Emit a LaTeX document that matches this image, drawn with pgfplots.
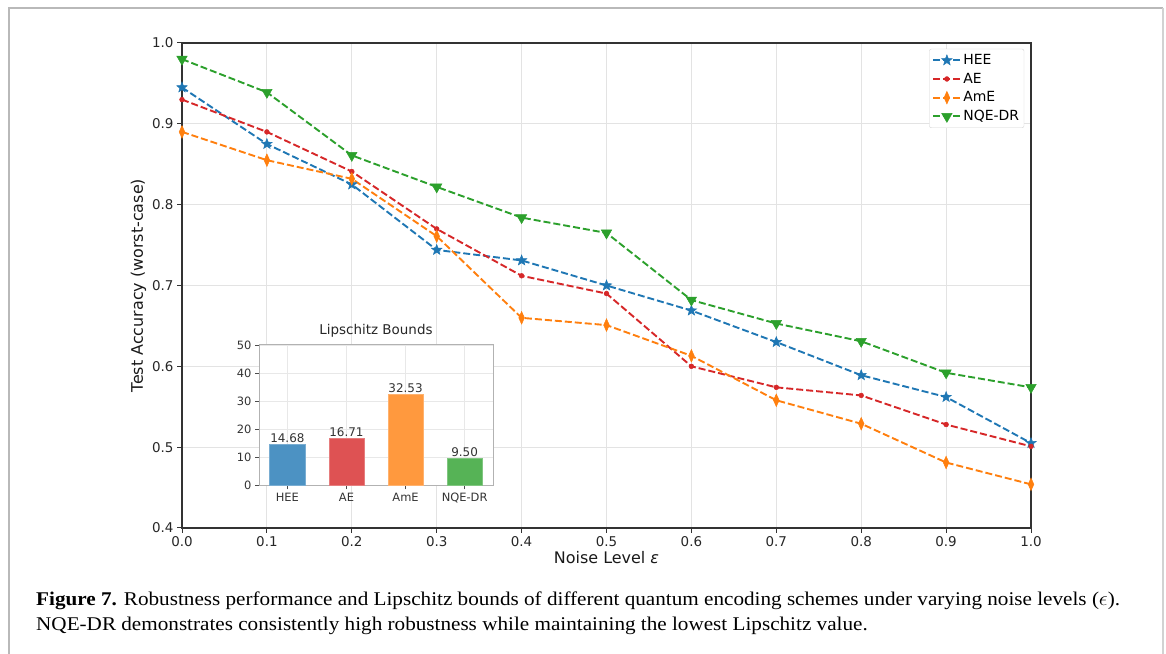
\documentclass[border=0pt]{standalone}
\usepackage{pgfplots}
\pgfplotsset{compat=1.18}
\usepackage{fontspec}
\usepackage{graphicx}
\setmainfont{DejaVu Sans}
\newfontfamily\capfont{Liberation Serif}

\definecolor{tblue}{HTML}{1F77B4}
\definecolor{tred}{HTML}{D62728}
\definecolor{torange}{HTML}{FF7F0E}
\definecolor{tgreen}{HTML}{2CA02C}

\pgfdeclareplotmark{fstar}{%
  \pgfpathmoveto{\pgfpointpolar{90}{\pgfplotmarksize}}%
  \pgfpathlineto{\pgfpointpolar{126}{0.42\pgfplotmarksize}}%
  \pgfpathlineto{\pgfpointpolar{162}{\pgfplotmarksize}}%
  \pgfpathlineto{\pgfpointpolar{198}{0.42\pgfplotmarksize}}%
  \pgfpathlineto{\pgfpointpolar{234}{\pgfplotmarksize}}%
  \pgfpathlineto{\pgfpointpolar{270}{0.42\pgfplotmarksize}}%
  \pgfpathlineto{\pgfpointpolar{306}{\pgfplotmarksize}}%
  \pgfpathlineto{\pgfpointpolar{342}{0.42\pgfplotmarksize}}%
  \pgfpathlineto{\pgfpointpolar{18}{\pgfplotmarksize}}%
  \pgfpathlineto{\pgfpointpolar{54}{0.42\pgfplotmarksize}}%
  \pgfpathclose
  \pgfusepathqfillstroke}

\newcommand\capsize{\capfont\fontsize{19.5}{23}\selectfont}
\newcommand\lineA{\textbf{Figure 7.} Robustness performance and Lipschitz bounds of different quantum encoding schemes under varying noise levels ($\epsilon$).}
\newcommand\lineB{NQE-DR demonstrates consistently high robustness while maintaining the lowest Lipschitz value.}
\newlength\capwA
\newlength\capwB

\begin{document}%
\settowidth\capwA{\capsize\lineA}%
\settowidth\capwB{\capsize\lineB}%
\begin{tikzpicture}
\path[use as bounding box] (0bp,0bp) rectangle (1166bp,654bp);
% frame
\draw[gray!55, line width=1.3bp] (9bp,-2bp) -- (9bp,646bp) -- (1163bp,646bp);
\draw[gray!35, line width=2bp] (1163bp,646bp) -- (1163bp,-2bp);

\begin{axis}[
  at={(182bp,126bp)}, anchor=south west,
  scale only axis, width=849bp, height=485bp,
  xmin=0, xmax=1, ymin=0.4, ymax=1.0,
  xtick={0,0.1,0.2,0.3,0.4,0.5,0.6,0.7,0.8,0.9,1.0},
  ytick={0.4,0.5,0.6,0.7,0.8,0.9,1.0},
  xtick pos=bottom, ytick pos=left,
  xticklabel={\pgfmathprintnumber[fixed,fixed zerofill,precision=1,assume math mode=true]{\tick}},
  yticklabel={\pgfmathprintnumber[fixed,fixed zerofill,precision=1,assume math mode=true]{\tick}},
  tick label style={font=\fontsize{13.5}{15}\selectfont, text=black!85},
  tick align=outside, major tick length=5bp,
  tick style={black!80, line width=1bp},
  axis line style={black!80, line width=1.1bp},
  grid=major, grid style={gray!22, line width=0.9bp},
  xlabel={Noise Level {\itshape ε}},
  ylabel={Test Accuracy (worst-case)},
  label style={font=\fontsize{16}{19}\selectfont, text=black!90},
  xlabel style={yshift=2bp},
  ylabel style={yshift=-1bp},
  legend style={at={(0.992,0.988)}, anchor=north east,
    font=\fontsize{14}{16}\selectfont, draw=gray!35, rounded corners=2bp,
    inner xsep=3bp, inner ysep=3.5bp, row sep=3bp},
  legend cell align=left,
  legend image code/.code={%
    \draw[#1, mark repeat=2, mark phase=2] plot coordinates {(0bp,0bp) (13.5bp,0bp) (27bp,0bp)};},
  every axis plot/.append style={line width=1.9bp, dash pattern=on 7bp off 3bp},
]
\addplot[tblue, mark=fstar, mark size=5.5bp, mark options={solid, line width=0.5bp}] coordinates {
(0.0,0.945) (0.1,0.875) (0.2,0.825) (0.3,0.744) (0.4,0.731) (0.5,0.700)
(0.6,0.669) (0.7,0.630) (0.8,0.589) (0.9,0.562) (1.0,0.505)};
\addlegendentry{HEE}
\addplot[tred, mark=*, mark size=2.4bp, mark options={solid, line width=0.5bp}] coordinates {
(0.0,0.930) (0.1,0.890) (0.2,0.841) (0.3,0.770) (0.4,0.712) (0.5,0.690)
(0.6,0.600) (0.7,0.574) (0.8,0.564) (0.9,0.528) (1.0,0.501)};
\addlegendentry{AE}
\addplot[torange, mark=diamond*, mark size=6.3bp, mark options={solid, xscale=0.6, line width=0.5bp}] coordinates {
(0.0,0.890) (0.1,0.855) (0.2,0.832) (0.3,0.761) (0.4,0.660) (0.5,0.651)
(0.6,0.613) (0.7,0.558) (0.8,0.529) (0.9,0.481) (1.0,0.454)};
\addlegendentry{AmE}
\addplot[tgreen, mark=triangle*, mark size=6bp, mark options={solid, rotate=180, line width=0.5bp}] coordinates {
(0.0,0.980) (0.1,0.939) (0.2,0.861) (0.3,0.822) (0.4,0.784) (0.5,0.765)
(0.6,0.682) (0.7,0.653) (0.8,0.631) (0.9,0.592) (1.0,0.574)};
\addlegendentry{NQE-DR}
\end{axis}

\begin{axis}[
  at={(259bp,168.7bp)}, anchor=south west,
  scale only axis, width=234bp, height=140.3bp,
  xmin=-0.48, xmax=3.48, ymin=0, ymax=50,
  xtick={0,1,2,3}, xticklabels={HEE,AE,AmE,NQE-DR},
  ytick={0,10,20,30,40,50},
  xtick pos=bottom, ytick pos=left,
  yticklabel={\pgfmathprintnumber[assume math mode=true]{\tick}},
  axis background/.style={fill=white},
  axis line style={gray!60, line width=1bp},
  tick style={black!70, line width=0.8bp},
  tick align=outside, major tick length=4bp,
  grid=major, grid style={gray!18, line width=0.8bp},
  tick label style={font=\fontsize{11.5}{13}\selectfont, text=black!80},
  title={Lipschitz Bounds},
  title style={font=\fontsize{13.5}{15}\selectfont, text=black!85, yshift=-2bp},
  ybar, bar width=35.5bp,
  nodes near coords={\pgfmathprintnumber[fixed,fixed zerofill,precision=2,assume math mode=true]{\pgfplotspointmeta}},
  every node near coord/.append style={font=\fontsize{12}{13}\selectfont, text=black!80, inner sep=1.5bp},
]
\addplot[fill=tblue!80!white, draw=tblue!60!white, bar shift=0pt] coordinates {(0,14.68)};
\addplot[fill=tred!80!white, draw=tred!60!white, bar shift=0pt] coordinates {(1,16.71)};
\addplot[fill=torange!80!white, draw=torange!60!white, bar shift=0pt] coordinates {(2,32.53)};
\addplot[fill=tgreen!80!white, draw=tgreen!60!white, bar shift=0pt] coordinates {(3,9.50)};
\end{axis}

% caption: same horizontal scale for both lines, first line 36bp -> 1120bp
\node[anchor=base west, inner sep=0pt] at (36bp,48bp) {\resizebox{1084bp}{\height}{\capsize\lineA}};
\node[anchor=base west, inner sep=0pt] at (36bp,24bp) {\resizebox{\dimexpr 1084bp*\capwB/\capwA\relax}{\height}{\capsize\lineB}};
\end{tikzpicture}%
\end{document}
